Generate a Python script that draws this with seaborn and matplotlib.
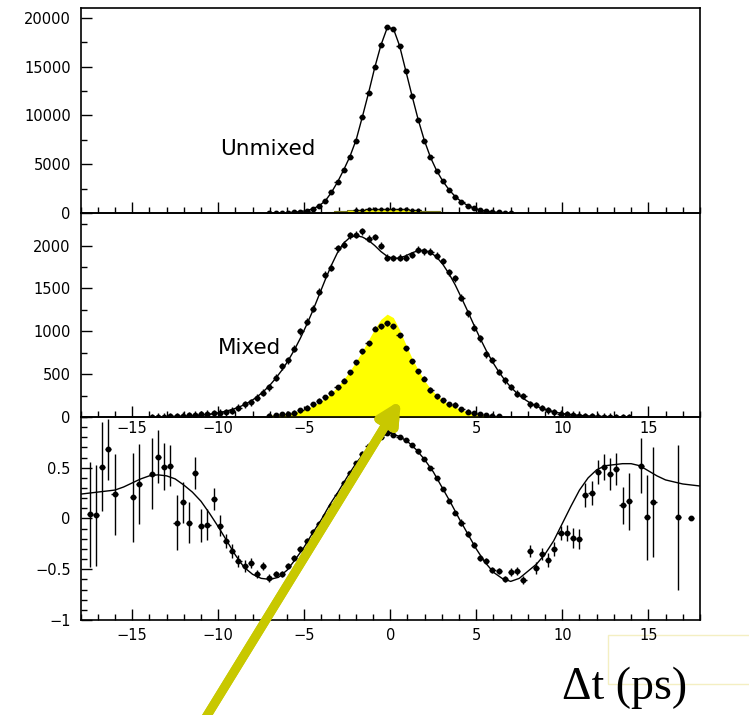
import numpy as np
import matplotlib
matplotlib.use("Agg")
import matplotlib.pyplot as plt
import seaborn as sns
from matplotlib.patches import Rectangle
from matplotlib.ticker import MultipleLocator

# ---------------- data ----------------
# histogram bin centres: 100 bins of 0.36 ps over [-18, 18]
bin_centers = np.round(-17.82 + 0.36 * np.arange(100), 2)

# Unmixed sample (bins -7.02 ... 7.02)
unmixed_counts = [5, 10, 20, 40, 80, 130, 250, 420, 720, 1250, 2150, 3200, 4420, 5750,
                  7400, 9850, 12250, 14950, 17250, 19050, 18850, 17150, 14550, 12000,
                  9550, 7350, 5720, 4330, 3270, 2350, 1650, 1130, 760, 480, 300, 180,
                  100, 55, 30, 15]
unmixed_fit = [5, 10, 20, 40, 75, 140, 250, 430, 730, 1230, 2100, 3180, 4430, 5800,
               7500, 9850, 12300, 14900, 17200, 18950, 18900, 17150, 14600, 12050,
               9600, 7450, 5700, 4330, 3250, 2380, 1680, 1150, 770, 490, 300, 180,
               105, 60, 32, 16]
# mistag background in the unmixed sample (bins -3.78 ... 3.42)
unmixed_bkg = [120, 150, 180, 220, 260, 300, 340, 370, 400, 420, 430, 420, 400, 370,
               330, 290, 250, 210, 170, 140, 110]

# Mixed sample (bins -13.86 ... 13.86)
mixed_counts = [0, 5, 5, 10, 10, 15, 20, 25, 30, 40, 45, 50, 55, 75, 110, 150, 170, 225,
                285, 345, 460, 590, 660, 795, 1000, 1110, 1265, 1460, 1660, 1740, 1970,
                2010, 2120, 2125, 2165, 2080, 2100, 2000, 1860, 1855, 1860, 1860, 1890,
                1950, 1935, 1930, 1880, 1820, 1690, 1620, 1390, 1210, 1040, 920, 730,
                665, 525, 430, 350, 270, 245, 150, 140, 105, 80, 55, 40, 30, 25, 15,
                10, 10, 5, 5, 5, 0, 0, 0]
mixed_fit = [2, 3, 4, 5, 7, 9, 12, 16, 22, 30, 40, 52, 68, 88, 113, 145, 185, 235, 295,
             365, 450, 545, 655, 780, 920, 1075, 1240, 1420, 1600, 1770, 1920, 2030,
             2095, 2115, 2100, 2060, 2000, 1930, 1875, 1850, 1855, 1880, 1915, 1940,
             1945, 1920, 1865, 1780, 1670, 1540, 1390, 1235, 1075, 920, 775, 645, 530,
             430, 345, 275, 215, 168, 130, 100, 76, 58, 44, 33, 25, 19, 14, 10, 8, 6,
             4, 3, 2, 2]
# mistag component of the mixed sample (bins -7.02 ... 6.30)
mixed_bkg_counts = [15, 20, 30, 40, 52, 78, 110, 148, 188, 228, 285, 345, 425, 520, 640,
                    765, 860, 1030, 1060, 1095, 1060, 955, 800, 650, 535, 445, 315, 240,
                    195, 150, 140, 90, 63, 43, 31, 20, 12, 8]
mixed_bkg_fit = [20, 27, 35, 45, 58, 75, 100, 130, 170, 220, 280, 355, 440, 540, 650,
                 770, 900, 1030, 1140, 1200, 1160, 1020, 850, 690, 550, 430, 330, 255,
                 195, 150, 115, 85, 62, 45, 32, 22, 15, 10]

# Asymmetry (all 100 bins)
nan = np.nan
asym = [nan, 0.04, 0.03, 0.51, 0.68, 0.24, nan, nan, 0.21, 0.34,
        nan, 0.44, 0.61, 0.51, 0.52, -0.04, 0.16, -0.04, 0.45, -0.07,
        -0.06, 0.19, -0.07, -0.22, -0.32, -0.42, -0.47, -0.44, -0.55, -0.47,
        -0.59, -0.55, -0.55, -0.47, -0.39, -0.30, -0.22, -0.13, -0.05, 0.02,
        0.12, 0.23, 0.35, 0.45, 0.55, 0.64, 0.71, 0.76, 0.80, 0.84,
        0.82, 0.80, 0.77, 0.72, 0.66, 0.59, 0.50, 0.40, 0.29, 0.17,
        0.05, -0.04, -0.15, -0.26, -0.39, -0.42, -0.51, -0.52, -0.60, -0.53,
        -0.52, -0.61, -0.32, -0.49, -0.35, -0.41, -0.30, -0.14, -0.14, -0.19,
        -0.20, 0.23, 0.25, 0.46, 0.51, 0.44, 0.49, 0.13, 0.17, nan,
        0.52, 0.01, 0.16, nan, nan, nan, 0.01, nan, 0.0, nan]
asym_err = [0, 0.52, 0.50, 0.44, 0.30, 0.40, 0, 0, 0.44, 0.39,
            0, 0.35, 0.26, 0.23, 0.20, 0.27, 0.20, 0.20, 0.16, 0.16,
            0.15, 0.11, 0.10, 0.07, 0.07, 0.06, 0.06, 0.05, 0.04, 0.04,
            0.04, 0.03, 0.03, 0.03, 0.03, 0.03, 0.03, 0.03, 0.03, 0.03,
            0.02, 0.02, 0.02, 0.02, 0.02, 0.02, 0.02, 0.02, 0.02, 0.02,
            0.02, 0.02, 0.02, 0.02, 0.02, 0.02, 0.02, 0.02, 0.02, 0.02,
            0.02, 0.03, 0.03, 0.03, 0.03, 0.03, 0.03, 0.03, 0.03, 0.04,
            0.04, 0.04, 0.06, 0.06, 0.06, 0.07, 0.07, 0.07, 0.08, 0.10,
            0.10, 0.12, 0.12, 0.12, 0.13, 0.16, 0.16, 0.18, 0.28, 0,
            0.27, 0.42, 0.54, 0, 0, 0, 0.71, 0, 0.0, 0]
# fit curve of the asymmetry on a 0.5 ps grid
fit_t = np.arange(-18.0, 18.01, 0.5)
asym_fit = [0.24, 0.25, 0.26, 0.27, 0.28, 0.31, 0.35, 0.39, 0.42, 0.43, 0.42, 0.39,
            0.33, 0.26, 0.17, 0.05, -0.08, -0.22, -0.36, -0.48, -0.55, -0.59, -0.60,
            -0.58, -0.51, -0.40, -0.28, -0.14, -0.01, 0.14, 0.27, 0.41, 0.54, 0.65,
            0.74, 0.81, 0.84, 0.81, 0.76, 0.68, 0.58, 0.46, 0.31, 0.16, 0.00, -0.15,
            -0.30, -0.43, -0.53, -0.59, -0.62, -0.59, -0.52, -0.45, -0.35, -0.22,
            -0.05, 0.12, 0.28, 0.40, 0.48, 0.52, 0.53, 0.54, 0.54, 0.52, 0.47, 0.42,
            0.38, 0.36, 0.34, 0.33, 0.32]

x_major = [-15, -10, -5, 0, 5, 10, 15]
x_labels = ["\u221215", "\u221210", "\u22125", "0", "5", "10", "15"]

# ---------------- style ----------------
sns.set_style("ticks")
plt.rcParams["font.family"] = ["DejaVu Sans"]
plt.rcParams["axes.linewidth"] = 1.2
plt.rcParams["text.color"] = "black"
plt.rcParams["xtick.color"] = "black"
plt.rcParams["ytick.color"] = "black"
plt.rcParams["xtick.labelcolor"] = "black"
plt.rcParams["ytick.labelcolor"] = "black"

fig = plt.figure(figsize=(7.49, 7.15), dpi=100)
ax_top = fig.add_axes([0.1075, 0.7021, 0.827, 0.2867])
ax_mid = fig.add_axes([0.1075, 0.4168, 0.827, 0.2853])
ax_bot = fig.add_axes([0.1075, 0.1329, 0.827, 0.2839])
ax_bot.set_facecolor("none")
ax_mid.set_facecolor("none")

x_top = bin_centers[30:70]
x_ubkg = bin_centers[39:60]
x_mid = bin_centers[11:89]
x_mbkg = bin_centers[30:68]

hw = 0.18  # half bin width
pt = dict(fmt="o", ms=3.2, color="black", ecolor="black", elinewidth=1.0, capsize=0)

# --- top: unmixed ---
ax_top.fill_between(x_ubkg, unmixed_bkg, step="mid", color="#f2f000", lw=0)
ax_top.step(x_ubkg, unmixed_bkg, where="mid", color="#7a7a20", lw=0.8)
sns.lineplot(x=x_top, y=unmixed_fit, ax=ax_top, color="black", lw=1.0)
ax_top.errorbar(x_top, unmixed_counts, xerr=hw, yerr=150, **pt)
ax_top.errorbar(x_ubkg[5:16], unmixed_bkg[5:16], xerr=hw, **dict(pt, ms=2))
ax_top.set_ylim(0, 21000)
ax_top.yaxis.set_major_locator(MultipleLocator(5000))
ax_top.yaxis.set_minor_locator(MultipleLocator(2500))
ax_top.text(-7.1, 6600, "Unmixed", fontsize=15.5, ha="center", va="center")

# --- middle: mixed ---
ax_mid.fill_between(x_mbkg, mixed_bkg_fit, color="#ffff00", lw=0)
sns.lineplot(x=x_mid, y=mixed_fit, ax=ax_mid, color="black", lw=1.0)
ax_mid.errorbar(x_mid, mixed_counts, xerr=hw, yerr=40, **pt)
ax_mid.errorbar(x_mbkg, mixed_bkg_counts, xerr=hw, yerr=30, **pt)
ax_mid.set_ylim(0, 2380)
ax_mid.yaxis.set_major_locator(MultipleLocator(500))
ax_mid.yaxis.set_minor_locator(MultipleLocator(250))
ax_mid.text(-8.2, 810, "Mixed", fontsize=15.5, ha="center", va="center")

# --- bottom: asymmetry ---
sns.lineplot(x=fit_t, y=asym_fit, ax=ax_bot, color="black", lw=1.0)
ax_bot.errorbar(bin_centers, asym, xerr=hw, yerr=asym_err, **pt)
ax_bot.set_ylim(-1.0, 1.0)
ax_bot.set_yticks([-1, -0.5, 0, 0.5])
ax_bot.set_yticklabels(["\u22121", "\u22120.5", "0", "0.5"])
ax_bot.yaxis.set_minor_locator(MultipleLocator(0.1))

for ax in (ax_top, ax_mid, ax_bot):
    ax.set_xlim(-18, 18)
    ax.set_xticks(x_major)
    ax.xaxis.set_minor_locator(MultipleLocator(1))
    ax.set_xlabel("")
    ax.set_ylabel("")
    for s in ax.spines.values():
        s.set_visible(True)
        s.set_linewidth(1.2)
        s.set_color("black")
    ax.tick_params(which="both", direction="in", top=False, right=False,
                   labelsize=10.5, color="black", labelcolor="black", width=1.0)
    ax.tick_params(which="major", length=8)
    ax.tick_params(which="minor", length=4.5)
    ax.tick_params(axis="y", pad=7)
    ax.tick_params(axis="x", pad=3)
ax_top.set_xticklabels([])
ax_mid.set_xticklabels(x_labels)
ax_bot.set_xticklabels(x_labels)
ax_bot.tick_params(axis="x", pad=6)
ax_mid.set_zorder(3)
ax_bot.set_zorder(2)

# --- annotations ---
fig.add_artist(Rectangle((608 / 749, 1 - 684 / 715), 145 / 749, 49 / 715,
                         transform=fig.transFigure, fill=False,
                         edgecolor="#f4efc2", lw=1.0))
fig.text(0.834, 0.038, "\u0394t (ps)", fontsize=33, family="Liberation Serif",
         color="black", ha="center", va="center")
arrow = plt.annotate("", xy=(401 / 749, 1 - 400 / 715), xycoords="figure fraction",
                     xytext=(203 / 749, -0.01), textcoords="figure fraction",
                     arrowprops=dict(arrowstyle="-|>", lw=6.5, color="#c8c800",
                                     mutation_scale=32, shrinkA=0, shrinkB=0))
arrow.set_zorder(10)
fig.add_artist(arrow)

fig.savefig("out.png", dpi=100)
